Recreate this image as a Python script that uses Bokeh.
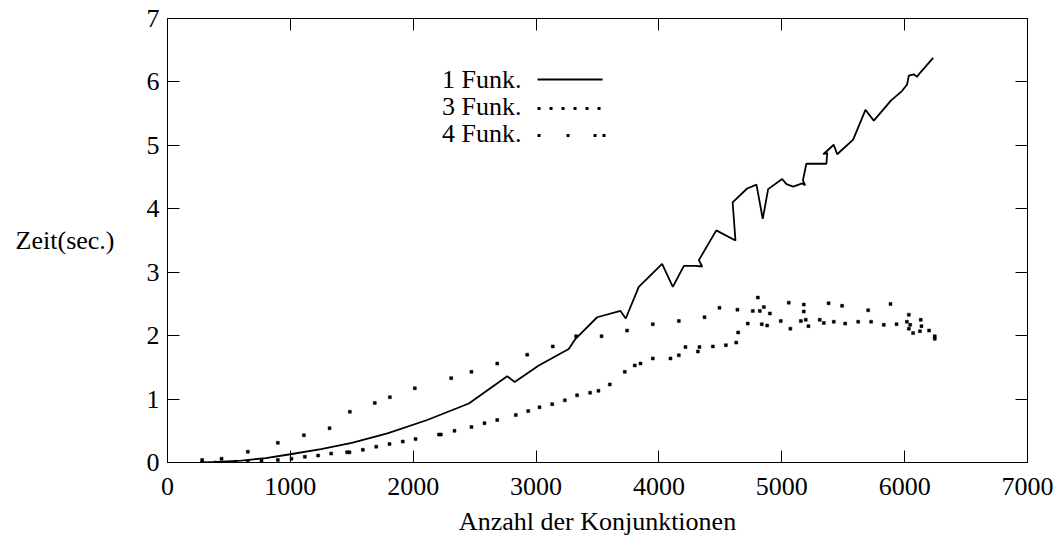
from bokeh.plotting import figure
from bokeh.models import LinearAxis, FixedTicker, Label, Arrow, Range1d
from bokeh.embed import file_html
from bokeh.resources import INLINE

# ---------------- data ----------------
X_TICKS = [0, 1000, 2000, 3000, 4000, 5000, 6000, 7000]
Y_TICKS = [0, 1, 2, 3, 4, 5, 6, 7]

# 1 Funk. (solid line)
F1_X = [282, 400, 600, 800, 1000, 1250, 1500, 1790, 2114, 2453, 2765, 2826, 3022,
        3266, 3321, 3497, 3687, 3730, 3836, 4026, 4113, 4203, 4298, 4352, 4325,
        4467, 4623, 4600, 4718, 4794, 4845, 4889, 5003, 5038, 5093, 5166, 5190,
        5172, 5200, 5363, 5370, 5338, 5423, 5451, 5581, 5681, 5749, 5890, 5980,
        6020, 6034, 6075, 6100, 6124, 6232]
F1_Y = [0.0, 0.01, 0.03, 0.07, 0.13, 0.21, 0.31, 0.46, 0.67, 0.93, 1.36, 1.27, 1.53,
        1.79, 1.95, 2.29, 2.39, 2.27, 2.77, 3.13, 2.77, 3.10, 3.10, 3.09, 3.19,
        3.66, 3.50, 4.10, 4.32, 4.38, 3.84, 4.31, 4.47, 4.39, 4.35, 4.40, 4.37,
        4.45, 4.71, 4.71, 4.88, 4.86, 5.01, 4.86, 5.09, 5.56, 5.39, 5.71, 5.86,
        5.96, 6.10, 6.12, 6.08, 6.14, 6.38]

# 3 Funk. (dots)
F3_X = [282, 391, 553, 654, 765, 898, 1009, 1118, 1226, 1332, 1462, 1481, 1590, 1699,
        1807, 1915, 2019, 2210, 2225, 2336, 2474, 2580, 2684, 2835, 2936, 3028, 3131,
        3234, 3334, 3440, 3508, 3600, 3722, 3803, 3850, 3950, 4094, 4162, 4216, 4317,
        4330, 4439, 4545, 4629, 4645, 4723, 4837, 4881, 4992, 5070, 5155, 5195, 5217,
        5309, 5342, 5423, 5516, 5622, 5727, 5830, 5934, 6018, 6045, 6069, 6124, 6137,
        6199, 6245]
F3_Y = [0.0, 0.0, 0.01, 0.02, 0.03, 0.04, 0.06, 0.09, 0.11, 0.14, 0.16, 0.16, 0.20, 0.25,
        0.29, 0.33, 0.37, 0.44, 0.44, 0.50, 0.56, 0.62, 0.67, 0.75, 0.81, 0.87, 0.92,
        0.98, 1.06, 1.10, 1.13, 1.23, 1.43, 1.53, 1.56, 1.64, 1.64, 1.69, 1.82, 1.75,
        1.82, 1.83, 1.85, 1.89, 2.05, 2.19, 2.18, 2.16, 2.23, 2.11, 2.23, 2.25, 2.15,
        2.25, 2.20, 2.22, 2.19, 2.22, 2.22, 2.17, 2.18, 2.22, 2.17, 2.04, 2.07, 2.15,
        2.08, 1.99]

# 4 Funk. (dots)
F4_X = [282, 440, 654, 898, 1110, 1319, 1484, 1687, 1810, 2013, 2309, 2474, 2684, 2928,
        3136, 3326, 3533, 3741, 3950, 4162, 4371, 4493, 4639, 4764, 4805, 4821, 4854,
        4903, 5057, 5179, 5179, 5381, 5491, 5703, 5885, 6034, 6034, 6131, 6245]
F4_Y = [0.04, 0.06, 0.17, 0.31, 0.43, 0.54, 0.80, 0.94, 1.03, 1.17, 1.33, 1.43, 1.56, 1.70,
        1.83, 1.99, 1.99, 2.08, 2.18, 2.23, 2.29, 2.44, 2.41, 2.39, 2.60, 2.39, 2.45,
        2.35, 2.52, 2.49, 2.38, 2.51, 2.47, 2.40, 2.50, 2.33, 2.11, 2.25, 1.95]

LEGEND_LABELS = ["1 Funk.", "3 Funk.", "4 Funk."]
X_LABEL = "Anzahl der Konjunktionen"
Y_LABEL = "Zeit(sec.)"

# ---------------- styling ----------------
FONT = "Liberation Serif"
FS = "26px"

p = figure(width=1058, height=544, output_backend="svg", toolbar_location=None,
           x_range=Range1d(0, 7000), y_range=Range1d(0, 7),
           min_border_left=167, min_border_right=31,
           min_border_top=18, min_border_bottom=82)
p.grid.visible = False
p.outline_line_color = "black"
p.outline_line_width = 1
p.background_fill_color = "white"
p.border_fill_color = "white"


def style_axis(ax, ticks, show_labels):
    ax.ticker = FixedTicker(ticks=ticks)
    ax.major_tick_in = 12
    ax.major_tick_out = 0
    ax.minor_tick_in = 0
    ax.minor_tick_out = 0
    ax.axis_line_color = "black"
    ax.major_tick_line_color = "black"
    ax.major_tick_line_width = 1
    ax.major_label_text_font = FONT
    if show_labels:
        ax.major_label_text_font_size = FS
        ax.major_label_text_color = "black"
    else:
        ax.major_label_text_font_size = "2px"
        ax.major_label_text_color = None
        ax.major_label_standoff = 0


xa = p.xaxis[0]
ya = p.yaxis[0]
style_axis(xa, X_TICKS, True)
style_axis(ya, Y_TICKS, True)
xa.major_label_standoff = 15
ya.major_label_standoff = 8
for ax, lab in ((xa, X_LABEL), (ya, Y_LABEL)):
    ax.axis_label = lab
    ax.axis_label_text_font = FONT
    ax.axis_label_text_font_size = FS
    ax.axis_label_text_font_style = "normal"
    ax.axis_label_text_color = "black"
xa.axis_label_standoff = 9
ya.axis_label_standoff = 29
ya.axis_label_orientation = "horizontal"

top_ax = LinearAxis()
style_axis(top_ax, X_TICKS, False)
p.add_layout(top_ax, "above")
right_ax = LinearAxis()
style_axis(right_ax, Y_TICKS, False)
p.add_layout(right_ax, "right")

# ---------------- series ----------------
p.line(F1_X, F1_Y, line_color="black", line_width=1.8)
p.scatter(F3_X, F3_Y, marker="square", size=3, fill_color="black", line_color="black", line_width=0.5)
p.scatter(F4_X, F4_Y, marker="square", size=3, fill_color="black", line_color="black", line_width=0.5)

# ---------------- legend (label left, sample right) ----------------
LEG_TEXT_X = 2881
LEG_SAMPLE_X0, LEG_SAMPLE_X1 = 3012, 3541
LEG_ROWS_Y = [6.038, 5.612, 5.187]
SAMPLE_Y = [6.038, 5.58, 5.155]
for lab, yy in zip(LEGEND_LABELS, LEG_ROWS_Y):
    p.add_layout(Label(x=LEG_TEXT_X, y=yy, text=lab, text_align="right",
                       text_baseline="middle", text_font=FONT, text_font_size=FS,
                       text_color="black"))

p.add_layout(Arrow(end=None, x_start=LEG_SAMPLE_X0, y_start=SAMPLE_Y[0],
                   x_end=LEG_SAMPLE_X1, y_end=SAMPLE_Y[0],
                   line_color="black", line_width=1.8))
p.add_layout(Arrow(end=None, x_start=LEG_SAMPLE_X0, y_start=SAMPLE_Y[1],
                   x_end=LEG_SAMPLE_X1 + 10, y_end=SAMPLE_Y[1],
                   line_color="black", line_width=3, line_dash="3 9"))
p.add_layout(Arrow(end=None, x_start=LEG_SAMPLE_X0, y_start=SAMPLE_Y[2],
                   x_end=LEG_SAMPLE_X1 + 30, y_end=SAMPLE_Y[2],
                   line_color="black", line_width=3, line_dash="3 26 3 24 3 6 3 40"))

open("out.html", "w").write(file_html(p, INLINE))
